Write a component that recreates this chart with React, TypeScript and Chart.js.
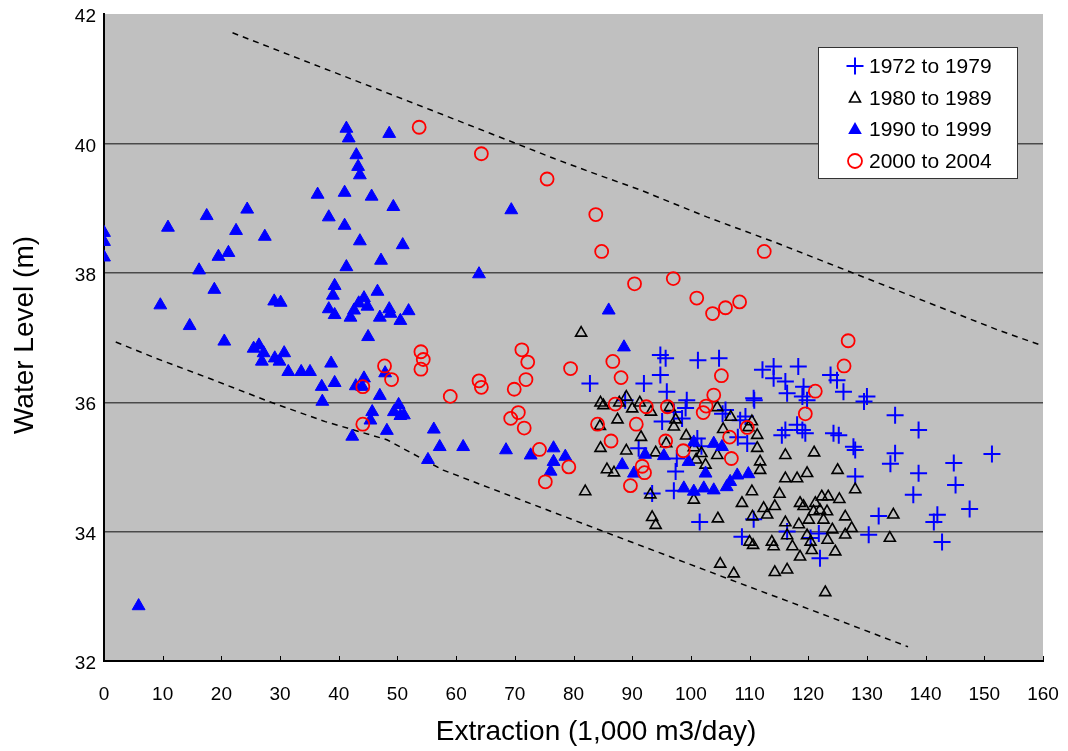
import React, { useEffect, useRef } from "react";
import { Chart, registerables } from "chart.js";

Chart.register(...registerables);

const FONT = "'Liberation Sans', Arial, Helvetica, sans-serif";

// ---- axis / labels ----
const xTickValues = [0, 10, 20, 30, 40, 50, 60, 70, 80, 90, 100, 110, 120, 130, 140, 150, 160];
const yTickValues = [32, 34, 36, 38, 40, 42];
const xTitle = "Extraction (1,000 m3/day)";
const yTitle = "Water Level (m)";
const seriesLabels = ["1972 to 1979", "1980 to 1989", "1990 to 1999", "2000 to 2004"];

// ---- data: [extraction, water level] ----
const s1972: [number, number][] = [
  [82.8, 36.29], [92.0, 36.29], [94.8, 36.73], [95.7, 36.68], [94.8, 36.42], [95.9, 36.16],
  [101.2, 36.65], [104.8, 36.68], [99.3, 36.03], [99.1, 35.91], [88.8, 36.03], [97.1, 35.85],
  [98.5, 35.75], [95.1, 35.70], [101.1, 35.44], [97.6, 35.13], [97.4, 34.93], [97.1, 34.63],
  [93.4, 34.59], [105.4, 35.82], [105.9, 35.88], [108.4, 35.72], [109.3, 35.78], [110.7, 36.06],
  [91.1, 35.29], [109.6, 35.36], [101.8, 35.32], [108.0, 35.46], [112.2, 36.50], [114.1, 36.55],
  [118.3, 36.55], [114.1, 36.37], [116.1, 36.32], [116.4, 36.14], [119.2, 36.24], [119.0, 36.09],
  [119.8, 36.03], [123.8, 36.42], [124.9, 36.34], [126.0, 36.16], [110.8, 36.03], [130.0, 36.09],
  [129.5, 36.01], [134.8, 35.80], [138.8, 35.57], [116.1, 35.57], [118.1, 35.65], [119.0, 35.57],
  [115.5, 35.49], [119.5, 35.52], [124.3, 35.52], [125.2, 35.49], [127.7, 35.31], [128.0, 35.26],
  [134.8, 35.21], [134.0, 35.05], [138.8, 34.90], [128.0, 34.85], [137.9, 34.57], [132.0, 34.24],
  [141.4, 34.15], [142.0, 34.26], [130.3, 33.95], [121.8, 33.97], [122.0, 33.59], [110.7, 34.19],
  [116.4, 34.00], [120.4, 33.90], [108.7, 33.92], [144.8, 35.06], [151.3, 35.20], [145.1, 34.72],
  [147.5, 34.35], [142.8, 33.84], [101.5, 34.15],
];

const s1980: [number, number][] = [
  [81.3, 37.07], [84.6, 35.99], [85.1, 35.95], [87.8, 35.99], [89.0, 36.08], [90.0, 35.90],
  [91.3, 35.99], [93.2, 35.85], [87.5, 35.73], [84.5, 35.63], [91.5, 35.46], [84.6, 35.29],
  [89.0, 35.25], [94.0, 35.22], [95.8, 35.36], [96.4, 35.92], [97.4, 35.73], [97.1, 35.62],
  [99.2, 35.48], [100.5, 35.30], [101.8, 35.21], [100.9, 35.11], [102.5, 35.03], [104.5, 35.92],
  [105.5, 35.58], [106.8, 35.77], [104.5, 35.18], [109.8, 35.61], [85.7, 34.96], [86.9, 34.91],
  [82.0, 34.62], [93.1, 34.57], [100.5, 34.49], [108.7, 34.44], [110.4, 34.62], [110.4, 35.70],
  [111.3, 35.49], [111.3, 35.29], [111.8, 35.08], [111.8, 34.95], [116.1, 35.18], [121.0, 35.22],
  [119.8, 34.90], [125.0, 34.95], [116.1, 34.82], [118.1, 34.82], [115.1, 34.58], [112.4, 34.36],
  [114.3, 34.39], [110.5, 34.23], [113.0, 34.26], [118.6, 34.44], [119.2, 34.39], [121.2, 34.44],
  [122.3, 34.54], [123.4, 34.54], [125.3, 34.50], [128.0, 34.65], [120.9, 34.31], [122.0, 34.33],
  [123.2, 34.31], [120.1, 34.18], [122.6, 34.18], [126.3, 34.23], [134.5, 34.26], [116.1, 34.14],
  [118.4, 34.11], [124.1, 34.03], [126.3, 33.95], [127.4, 34.05], [133.9, 33.90], [110.0, 33.84],
  [110.6, 33.79], [113.8, 33.84], [114.1, 33.77], [116.4, 33.94], [117.3, 33.77], [119.8, 33.94],
  [120.4, 33.84], [118.6, 33.61], [120.6, 33.71], [123.3, 33.87], [124.6, 33.69], [116.4, 33.41],
  [114.3, 33.37], [122.9, 33.06], [105.0, 33.50], [107.3, 33.35], [104.6, 34.20], [94.0, 34.10],
  [93.4, 34.22],
];

const s1990: [number, number][] = [
  [0, 38.62], [0, 38.48], [0, 38.24], [5.9, 32.85], [9.6, 37.50], [10.9, 38.70], [14.6, 37.18],
  [16.2, 38.04], [17.5, 38.88], [18.8, 37.74], [19.5, 38.25], [20.5, 36.94], [21.2, 38.31],
  [22.5, 38.65], [24.4, 38.98], [25.5, 36.83], [26.4, 36.88], [26.9, 36.63], [27.2, 36.76],
  [27.4, 38.56], [29.0, 37.56], [29.1, 36.68], [29.9, 36.63], [30.1, 37.54], [30.7, 36.76],
  [31.4, 36.47], [33.6, 36.47], [35.1, 36.47], [36.4, 39.21], [37.1, 36.24], [37.2, 36.01],
  [38.3, 38.86], [38.3, 37.44], [38.7, 36.60], [39.3, 37.80], [39.0, 37.65], [39.3, 37.35],
  [39.3, 36.30], [41.3, 40.23], [41.7, 40.08], [48.6, 40.15], [43.0, 39.82], [43.3, 39.64],
  [43.6, 39.51], [41.0, 39.24], [45.6, 39.18], [49.3, 39.02], [69.4, 38.97], [41.0, 38.73],
  [43.6, 38.49], [50.9, 38.43], [47.2, 38.19], [41.3, 38.09], [63.9, 37.98], [46.6, 37.71],
  [44.3, 37.61], [43.4, 37.53], [44.9, 37.48], [42.6, 37.42], [42.0, 37.31], [48.6, 37.44],
  [51.9, 37.41], [47.0, 37.31], [48.8, 37.37], [50.5, 37.26], [45.0, 37.01], [47.9, 36.45],
  [44.3, 36.37], [42.9, 36.25], [44.0, 36.24], [47.0, 36.10], [50.2, 35.96], [49.4, 35.85],
  [45.7, 35.85], [45.4, 35.72], [50.5, 35.79], [51.1, 35.80], [48.2, 35.56], [42.3, 35.47],
  [56.2, 35.58], [57.2, 35.31], [61.2, 35.31], [55.2, 35.11], [68.5, 35.26], [72.7, 35.18],
  [76.6, 35.29], [76.6, 35.08], [86.0, 37.42], [88.6, 36.85], [78.6, 35.16], [76.1, 34.93],
  [88.3, 35.03], [92.2, 35.19], [90.3, 34.90], [95.4, 35.17], [99.6, 35.08], [103.9, 35.36],
  [105.3, 35.31], [102.5, 34.90], [98.8, 34.67], [100.5, 34.62], [102.2, 34.67], [103.9, 34.64],
  [106.7, 34.77], [107.9, 34.87], [109.8, 34.89], [106.1, 34.69], [100.5, 35.38],
];

const s2000: [number, number][] = [
  [53.7, 40.25], [64.3, 39.84], [75.5, 39.45], [83.8, 38.90], [84.8, 38.33], [112.5, 38.33],
  [90.4, 37.83], [97.0, 37.91], [101.0, 37.61], [103.7, 37.37], [105.9, 37.46], [108.3, 37.55],
  [86.7, 36.63], [79.5, 36.52], [54.0, 36.78], [54.4, 36.66], [54.0, 36.51], [47.8, 36.56],
  [49.0, 36.35], [44.1, 36.24], [59.0, 36.09], [63.9, 36.33], [64.3, 36.23], [71.2, 36.81],
  [72.2, 36.62], [71.9, 36.35], [69.9, 36.20], [70.6, 35.84], [69.3, 35.75], [71.6, 35.60],
  [44.1, 35.66], [74.2, 35.27], [88.1, 36.38], [105.2, 36.41], [103.9, 36.11], [102.6, 35.94],
  [102.1, 35.84], [87.1, 35.97], [92.4, 35.93], [96.0, 35.93], [84.1, 35.66], [90.7, 35.66],
  [86.4, 35.40], [95.7, 35.40], [98.7, 35.25], [106.6, 35.46], [109.6, 35.61], [106.9, 35.13],
  [79.2, 35.00], [75.2, 34.77], [91.7, 35.01], [92.1, 34.91], [89.7, 34.71], [126.8, 36.95],
  [126.1, 36.56], [121.2, 36.17], [119.5, 35.82],
];

// envelope (dashed) lines
const upperEnvelope: [number, number][] = [
  [21.9, 41.71], [55.6, 40.52], [76.6, 39.77], [83.4, 39.54], [91.4, 39.28], [102.8, 38.86],
  [114.1, 38.48], [152.2, 37.12], [160, 36.87],
];
const lowerEnvelope: [number, number][] = [
  [2.0, 36.93], [8.8, 36.68], [17.9, 36.37], [28.1, 36.01], [37.7, 35.70], [48.2, 35.42],
  [57.8, 34.95], [84.6, 34.02], [108.4, 33.20], [124.3, 32.66], [137.0, 32.22],
];

const toPts = (a: [number, number][]) => a.map(([x, y]) => ({ x, y }));

const BLUE = "#0000FF";
const RED = "#FF0000";

function drawMarker(ctx: CanvasRenderingContext2D, kind: string, x: number, y: number) {
  ctx.save();
  ctx.beginPath();
  if (kind === "cross") {
    ctx.strokeStyle = BLUE;
    ctx.lineWidth = 2;
    ctx.moveTo(x - 8.5, y);
    ctx.lineTo(x + 8.5, y);
    ctx.moveTo(x, y - 8.5);
    ctx.lineTo(x, y + 8.5);
    ctx.stroke();
  } else if (kind === "openTri") {
    ctx.strokeStyle = "#000";
    ctx.lineWidth = 1.6;
    ctx.moveTo(x, y - 6);
    ctx.lineTo(x + 5.5, y + 4);
    ctx.lineTo(x - 5.5, y + 4);
    ctx.closePath();
    ctx.stroke();
  } else if (kind === "fillTri") {
    ctx.fillStyle = BLUE;
    ctx.moveTo(x, y - 7);
    ctx.lineTo(x + 6.8, y + 5);
    ctx.lineTo(x - 6.8, y + 5);
    ctx.closePath();
    ctx.fill();
  } else {
    ctx.strokeStyle = RED;
    ctx.lineWidth = 1.8;
    ctx.arc(x, y, 7, 0, Math.PI * 2);
    ctx.stroke();
  }
  ctx.restore();
}

const decorPlugin = {
  id: "decor",
  beforeDraw(chart: any) {
    const { ctx, chartArea } = chart;
    ctx.save();
    ctx.fillStyle = "#FFFFFF";
    ctx.fillRect(0, 0, chart.width, chart.height);
    ctx.fillStyle = "#C0C0C0";
    ctx.fillRect(chartArea.left, chartArea.top, chartArea.right - chartArea.left, chartArea.bottom - chartArea.top);
    ctx.restore();
  },
  afterDraw(chart: any) {
    const { ctx, chartArea } = chart;
    const xs = chart.scales.x;
    ctx.save();
    // inward x tick marks
    ctx.strokeStyle = "#000";
    ctx.lineWidth = 1;
    for (const v of xTickValues) {
      const px = Math.round(xs.getPixelForValue(v)) + 0.5;
      ctx.beginPath();
      ctx.moveTo(px, chartArea.bottom);
      ctx.lineTo(px, chartArea.bottom - 5);
      ctx.stroke();
    }
    // axis titles
    ctx.fillStyle = "#000";
    ctx.font = `28px ${FONT}`;
    ctx.textAlign = "center";
    ctx.textBaseline = "middle";
    ctx.fillText(xTitle, 596, 732);
    ctx.translate(25, 335);
    ctx.rotate(-Math.PI / 2);
    ctx.fillText(yTitle, 0, 0);
    ctx.restore();

    // legend
    ctx.save();
    ctx.fillStyle = "#FFFFFF";
    ctx.fillRect(818.5, 47.5, 199, 131);
    ctx.strokeStyle = "#333";
    ctx.lineWidth = 1;
    ctx.strokeRect(818.5, 47.5, 199, 131);
    const kinds = ["cross", "openTri", "fillTri", "circle"];
    const rows = [66, 98, 129, 161];
    ctx.font = `21px ${FONT}`;
    ctx.textAlign = "left";
    ctx.textBaseline = "middle";
    seriesLabels.forEach((lab, i) => {
      drawMarker(ctx, kinds[i], 855, rows[i]);
      ctx.fillStyle = "#000";
      ctx.fillText(lab, 869, rows[i] + 1);
    });
    ctx.restore();
  },
};

export default function App() {
  const ref = useRef<HTMLCanvasElement | null>(null);
  useEffect(() => {
    document.body.style.margin = "0";
    const canvas = ref.current!;
    const chart = new Chart(canvas, {
      type: "scatter",
      data: {
        datasets: [
          {
            label: seriesLabels[3],
            data: toPts(s2000),
            pointStyle: "circle",
            pointRadius: 6.5,
            borderColor: RED,
            backgroundColor: "rgba(0,0,0,0)",
            borderWidth: 1.8,
          },
          {
            label: seriesLabels[2],
            data: toPts(s1990),
            pointStyle: "triangle",
            pointRadius: 7.4,
            borderColor: BLUE,
            backgroundColor: BLUE,
            borderWidth: 1,
          },
          {
            label: seriesLabels[1],
            data: toPts(s1980),
            pointStyle: "triangle",
            pointRadius: 6.4,
            borderColor: "#000",
            backgroundColor: "rgba(0,0,0,0)",
            borderWidth: 1.6,
          },
          {
            label: seriesLabels[0],
            data: toPts(s1972),
            pointStyle: "cross",
            pointRadius: 8.5,
            borderColor: BLUE,
            backgroundColor: BLUE,
            borderWidth: 2,
          },
          {
            label: "upper",
            type: "line",
            data: toPts(upperEnvelope),
            showLine: true,
            borderColor: "#000",
            borderWidth: 1.5,
            borderDash: [6, 5],
            pointRadius: 0,
            fill: false,
          } as any,
          {
            label: "lower",
            type: "line",
            data: toPts(lowerEnvelope),
            showLine: true,
            borderColor: "#000",
            borderWidth: 1.5,
            borderDash: [6, 5],
            pointRadius: 0,
            fill: false,
          } as any,
        ],
      },
      options: {
        responsive: false,
        animation: false,
        devicePixelRatio: 1,
        layout: { padding: { left: 0, top: 14, right: 25, bottom: 0 } },
        plugins: { legend: { display: false }, tooltip: { enabled: false } },
        scales: {
          x: {
            type: "linear",
            min: 0,
            max: 160,
            afterBuildTicks: (s: any) => {
              s.ticks = xTickValues.map((v) => ({ value: v }));
            },
            afterFit: (s: any) => {
              s.height = 90;
              s.paddingLeft = 0;
              s.paddingRight = 0;
            },
            grid: { display: false, drawTicks: false },
            border: { display: true, color: "#000", width: 2 },
            ticks: {
              padding: 22,
              color: "#000",
              font: { family: FONT, size: 19 },
              maxRotation: 0,
              autoSkip: false,
            },
          },
          y: {
            type: "linear",
            min: 32,
            max: 42,
            afterBuildTicks: (s: any) => {
              s.ticks = yTickValues.map((v) => ({ value: v }));
            },
            afterFit: (s: any) => {
              s.width = 104;
              s.paddingTop = 0;
              s.paddingBottom = 0;
            },
            grid: {
              drawTicks: false,
              lineWidth: 1.4,
              color: (c: any) => (c.tick && c.tick.value > 32 && c.tick.value < 42 ? "#4a4a4a" : "rgba(0,0,0,0)"),
            },
            border: { display: true, color: "#000", width: 2 },
            ticks: {
              padding: 8,
              labelOffset: 3,
              color: "#000",
              font: { family: FONT, size: 19 },
            },
          },
        },
      },
      plugins: [decorPlugin],
    } as any);
    return () => chart.destroy();
  }, []);
  return (
    <canvas ref={ref} width={1068} height={751} style={{ display: "block", width: "1068px", height: "751px" }} />
  );
}
